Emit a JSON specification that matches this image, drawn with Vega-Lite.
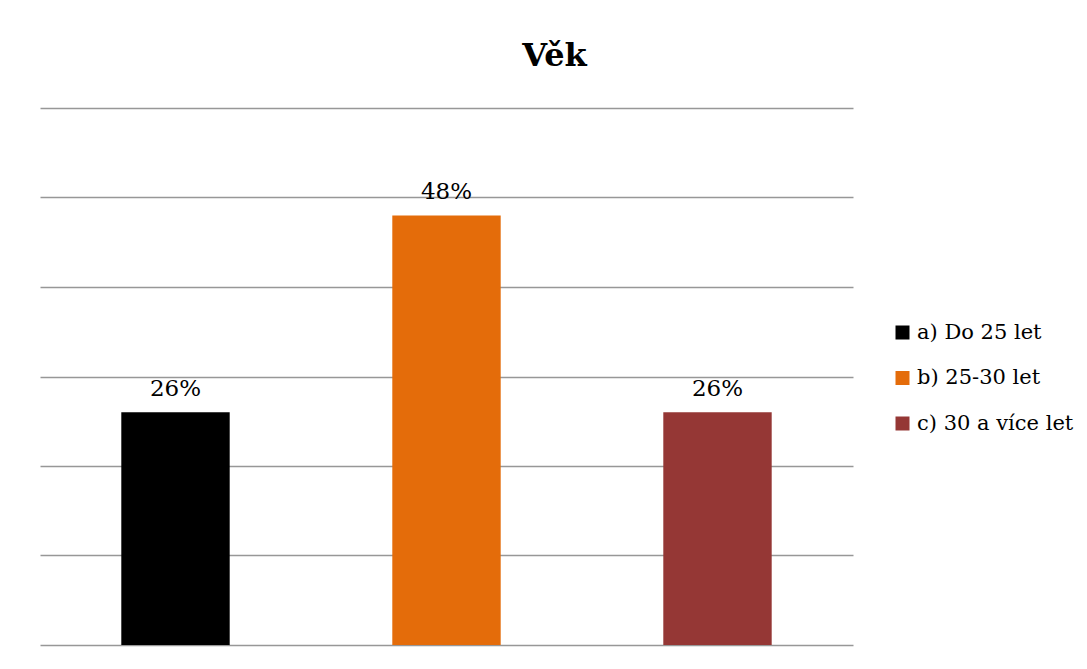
{
  "$schema": "https://vega.github.io/schema/vega-lite/v6.json",
  "autosize": {"type": "none"},
  "width": 813,
  "height": 537,
  "padding": {"left": 40, "top": 108, "right": 234, "bottom": 24},
  "background": "white",
  "title": {
    "text": "Věk",
    "font": "DejaVu Serif",
    "fontSize": 32,
    "fontWeight": "bold",
    "color": "black",
    "anchor": "middle",
    "dx": 108,
    "baseline": "alphabetic",
    "offset": 42,
    "dy": 32
  },
  "data": {
    "values": [
      {"category": "a) Do 25 let", "value": 0.26},
      {"category": "b) 25-30 let", "value": 0.48},
      {"category": "c) 30 a více let", "value": 0.26}
    ]
  },
  "encoding": {
    "x": {
      "field": "category",
      "type": "nominal",
      "sort": null,
      "axis": null,
      "scale": {"paddingInner": 0.6, "paddingOuter": 0.3}
    },
    "y": {
      "field": "value",
      "type": "quantitative",
      "scale": {"domain": [0, 0.6], "nice": false},
      "axis": {
        "values": [0, 0.1, 0.2, 0.3, 0.4, 0.5, 0.6],
        "labels": false,
        "ticks": false,
        "domain": false,
        "title": null,
        "grid": true,
        "gridColor": "#979797",
        "gridWidth": 1.6,
        "gridOpacity": 1
      }
    }
  },
  "layer": [
    {
      "mark": {"type": "bar"},
      "encoding": {
        "color": {
          "field": "category",
          "type": "nominal",
          "sort": null,
          "scale": {"range": ["#000000", "#E46C0A", "#953735"]},
          "legend": {
            "title": null,
            "orient": "none",
            "legendX": 852,
            "legendY": 214,
            "padding": 0,
            "symbolType": "square",
            "symbolSize": 196,
            "symbolStrokeWidth": 0,
            "labelFont": "DejaVu Serif",
            "labelFontSize": 21,
            "labelColor": "black",
            "labelOffset": 4,
            "rowPadding": 23.5,
            "labelLimit": 300
          }
        }
      }
    },
    {
      "mark": {
        "type": "text",
        "font": "DejaVu Serif",
        "fontSize": 23,
        "color": "black",
        "baseline": "alphabetic",
        "dy": -16
      },
      "encoding": {
        "text": {"field": "value", "type": "quantitative", "format": ".0%"}
      }
    }
  ],
  "config": {
    "view": {"stroke": null}
  }
}
